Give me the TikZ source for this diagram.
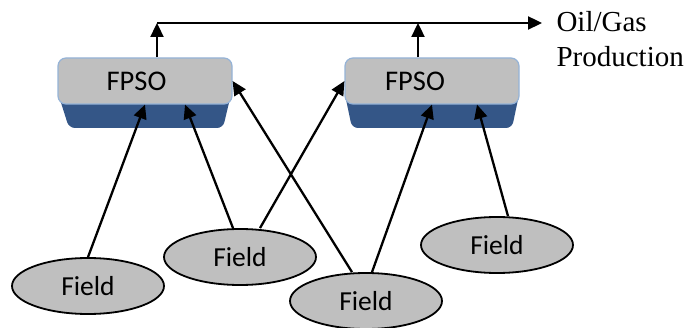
\documentclass[tikz,border=0pt]{standalone}
\usepackage{fontspec}
\setmainfont{Liberation Serif}
\newfontfamily\calib{Carlito}
\usepackage{tikz}
\usetikzlibrary{arrows.meta,shapes.geometric}
\definecolor{boxgray}{RGB}{191,191,191}
\definecolor{boxedge}{RGB}{149,179,215}
\definecolor{basblue}{RGB}{52,86,135}

\begin{document}
\begin{tikzpicture}[x=1pt,y=-1pt]
\tikzstyle{unit}=[rectangle,rounded corners=8pt,draw=boxedge,fill=boxgray,line width=1.2pt,minimum width=174pt,minimum height=46pt,inner sep=0pt,font=\calib\fontsize{28.5}{30}\selectfont]
\tikzstyle{field}=[ellipse,draw=black,fill=boxgray,line width=1.8pt,minimum width=152pt,minimum height=56pt,inner sep=0pt,font=\calib\fontsize{27.5}{30}\selectfont]
\tikzstyle{flow}=[-{Triangle[length=14pt,width=13pt]},line width=2.3pt]
\useasboundingbox (0,0) rectangle (687,328);

% Blue bases below the units
\fill[basblue,rounded corners=6pt] (57,90) -- (232,90) -- (223,128) -- (69,128) -- cycle;
\fill[basblue,rounded corners=6pt] (344,90) -- (520,90) -- (512,128) -- (352,128) -- cycle;

% FPSO units
\node (A) [unit] at (145,81) {\hspace*{-17pt}FPSO};
\node (B) [unit] at (432,81) {\hspace*{-34pt}FPSO};

% Fields
\node (F1) [field] at (88,286) {Field};
\node (F2) [field] at (240,257) {Field};
\node (F3) [field] at (366,301) {Field};
\node (F4) [field] at (497,245) {Field};

% Production line
\coordinate (jA) at (157,23);
\coordinate (jB) at (418,23);
\coordinate (out) at (542,23);
\node (prod) [anchor=base west,align=left,font=\fontsize{29}{35}\selectfont] at (553,67) {Oil/Gas\\Production};

\draw[flow] ([xshift=12pt]A.north) -- (jA);
\draw[flow] ([xshift=-14pt]B.north) -- (jB);
\draw[flow] (jA) -- (out);

% Field flows
\draw[flow] (F1.north) -- (A.south);
\draw[flow] ([xshift=-7pt]F2.north) -- ([xshift=40pt]A.south);
\draw[flow] ([xshift=20pt]F2.north) -- (B.west);
\draw[flow] ([xshift=-14pt]F3.north) -- (A.east);
\draw[flow] ([xshift=6pt]F3.north) -- (B.south);
\draw[flow] ([xshift=11pt]F4.north) -- ([xshift=45pt]B.south);

\end{tikzpicture}
\end{document}
